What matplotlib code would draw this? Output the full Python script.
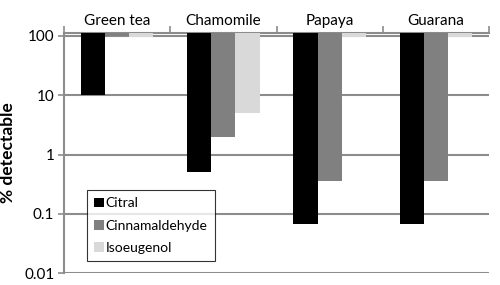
import matplotlib.pyplot as plt
import numpy as np
from matplotlib.ticker import FixedLocator, NullFormatter

plt.rcParams['font.family'] = ['Lato', 'DejaVu Sans']

teas = ["Green tea", "Chamomile", "Papaya", "Guarana"]
citral = [10, 0.51, 0.067, 0.067]
cinnamaldehyde = [100, 2.0, 0.36, 0.36]
isoeugenol = [95, 5.1, 95, 95]
series_names = ["Citral", "Cinnamaldehyde", "Isoeugenol"]
colors = ["#000000", "#808080", "#d9d9d9"]

ytop = 112
fig = plt.figure(figsize=(5, 2.85), dpi=100)
ax = fig.add_axes([0.128, 0.042, 0.85, 0.842])

x = np.arange(len(teas))
w = 0.227
for i, (vals, name, c) in enumerate(zip([citral, cinnamaldehyde, isoeugenol], series_names, colors)):
    vals = np.array(vals)
    ax.bar(x + (i - 1) * w, ytop - vals, bottom=vals, width=w, color=c, label=name, zorder=3)

ax.set_yscale('log')
ax.set_ylim(0.01, ytop)
ax.set_xlim(-0.5, len(teas) - 0.5)
ax.set_yticks([0.01, 0.1, 1, 10, 100])
ax.set_yticklabels(["0.01", "0.1", "1", "10", "100"], fontsize=11)
ax.yaxis.set_minor_locator(FixedLocator([]))
ax.yaxis.set_minor_formatter(NullFormatter())
ax.grid(axis='y', color='#8c8c8c', linewidth=1.5, zorder=1)

ax.xaxis.tick_top()
ax.set_xticks(x)
ax.set_xticklabels(teas, fontsize=11)
ax.tick_params(axis='x', which='major', length=0, pad=4)
ax.set_xticks(np.arange(len(teas) + 1) - 0.5, minor=True)
ax.tick_params(axis='x', which='minor', length=5, color='#8c8c8c', width=1.2, top=True, bottom=False)
ax.tick_params(axis='y', length=4, color='#8c8c8c', width=1.2, pad=3)

for s in ['right', 'bottom']:
    ax.spines[s].set_visible(False)
for s in ['top', 'left']:
    ax.spines[s].set_color('#8c8c8c')
    ax.spines[s].set_linewidth(1.5)

ax.set_ylabel("% detectable", fontsize=12.5, fontweight='bold', labelpad=6)

leg = ax.legend(loc='lower left', bbox_to_anchor=(0.054, 0.05), fontsize=10, frameon=True,
                fancybox=False, edgecolor='black', handlelength=0.7, handleheight=0.7,
                handletextpad=0.15, labelspacing=0.75, borderpad=0.5, borderaxespad=0)
leg.get_frame().set_linewidth(0.8)
leg.set_zorder(5)

fig.savefig("out.png", dpi=100)
